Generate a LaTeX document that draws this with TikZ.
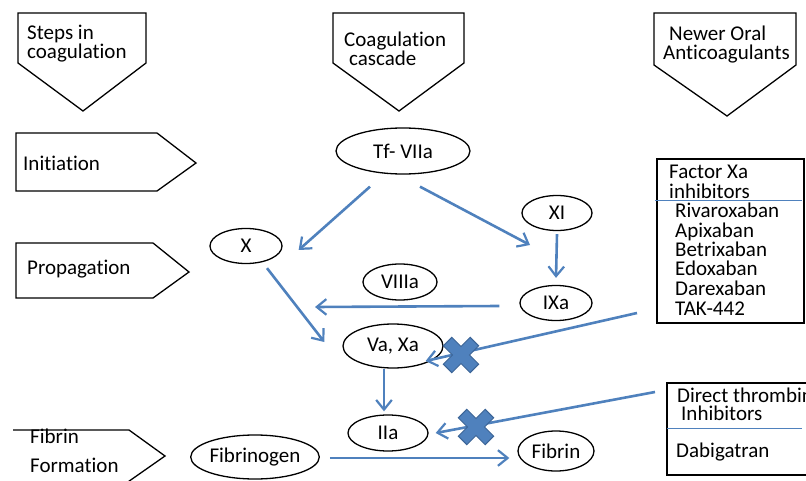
\documentclass[tikz,border=0pt]{standalone}
\usepackage{fontspec}
\setmainfont{Carlito}[Ligatures=NoCommon]
\usetikzlibrary{arrows.meta, positioning, shapes.geometric, calc}
\definecolor{flowblue}{HTML}{4F81BD}
\definecolor{markedge}{HTML}{3A6396}
\tikzset{
  factor/.style={ellipse, draw=black, line width=1.3pt, fill=white,
                 inner sep=0pt, font=\fontsize{21}{19.5}\selectfont},
  stage/.style={draw=black, line width=1.3pt, fill=white, line join=miter},
  lbl/.style={font=\fontsize{21}{19.5}\selectfont, inner sep=0pt, anchor=base west},
  flow/.style={-{Straight Barb[length=3.4mm, width=5.5mm, line width=2.2pt]},
               line width=2.6pt, flowblue},
  rule/.style={line width=1pt, flowblue},
  block/.style={line width=1pt, draw=markedge, fill=flowblue},
}

\begin{document}
\begin{tikzpicture}[x=1pt, y=-1pt]
  \useasboundingbox (0,0) rectangle (806,481);
  \clip (0,0) rectangle (806,481);
  % column heads
  \draw[stage] (18,13) -- (146,13) -- (146,63) -- (83,111) -- (18,63) -- cycle;
  \draw[stage] (333,13) -- (464,13) -- (464,63) -- (399,111) -- (333,63) -- cycle;
  \draw[stage] (654,13) -- (796,13) -- (796,65) -- (727,116) -- (654,65) -- cycle;
  \node[lbl] (steps1) at (27,40) {Steps in};
  \node[lbl] (steps2) at (27,59) {coagulation};
  \node[lbl] (casc1) at (344,47) {Coagulation};
  \node[lbl] (casc2) at (349,66) {cascade};
  \node[lbl] (noac1) at (669,41) {Newer Oral};
  \node[lbl] (noac2) at (663,60) {Anticoagulants};
  % steps
  \draw[stage] (16,133) -- (157,133) -- (196,163) -- (157,191) -- (16,191) -- cycle;
  \draw[stage] (16,243) -- (153,243) -- (189,272) -- (153,298) -- (16,298) -- cycle;
  \draw[stage] (13,430) -- (129,430) -- (165,456) -- (125,484);
  \node[lbl] (init) at (23,171) {Initiation};
  \node[lbl] (prop) at (27,275) {Propagation};
  \node[lbl] (fib1) at (30,443) {Fibrin};
  \node[lbl] (fib2) at (30,472) {Formation};
  % cascade
  \node[factor, minimum width=134pt, minimum height=46pt] (tf) at (403,151) {Tf- VIIa};
  \node[factor, minimum width=72pt, minimum height=35pt] (x) at (246,246) {X};
  \node[factor, minimum width=70pt, minimum height=35pt] (xi) at (557,213) {XI};
  \node[factor, minimum width=74pt, minimum height=36pt] (viiia) at (400,282) {VIIIa};
  \node[factor, minimum width=72pt, minimum height=35pt] (ixa) at (556,303) {IXa};
  \node[factor, minimum width=100pt, minimum height=44pt] (vaxa) at (393,346) {Va, Xa};
  \node[factor, minimum width=80pt, minimum height=36pt] (iia) at (388,433) {IIa};
  \node[factor, minimum width=120pt, minimum height=44pt] (fbg) at (255,457) {Fibrinogen};
  \node[factor, minimum width=76pt, minimum height=40pt] (fbn) at (556,451) {Fibrin};
  \coordinate (xiend) at (530,245);
  \coordinate (ixaend) at (315,307);
  \draw[flow] ($(tf.south)+(-33,12)$) -- ($(x.east)+(16,4)$);
  \draw[flow] ($(tf.south)+(17,12)$) -- (xiend);
  \draw[flow] (xi.south) ++(0,3) -- ($(ixa.north)+(0,-7)$);
  \draw[flow] ($(ixa.west)+(-20,3)$) -- (ixaend);
  \draw[flow] ($(x.south)+(21,4)$) -- ($(vaxa.west)+(-18,-4)$);
  \draw[flow] ($(vaxa.south)+(-9,0)$) -- ($(iia.north)+(-4,-3)$);
  \draw[flow] ($(fbg.east)+(10,1)$) -- ($(fbn.west)+(-8,7)$);
  % inhibitor boxes
  \draw[line width=1.3pt] (657,159) rectangle (804,323);
  \node[lbl] (fxa1) at (669,179) {Factor Xa};
  \node[lbl] (fxa2) at (669,199) {inhibitors};
  \draw[rule] (655,201) -- (802,201);
  \foreach \drug [count=\i] in {Rivaroxaban,Apixaban,Betrixaban,Edoxaban,Darexaban,TAK-442}
    \node[lbl] (drug\i) at (675,198+19.5*\i) {\drug};
  \draw[line width=1.3pt] (667,383) rectangle (830,475);
  \node[lbl] (dti1) at (677,402) {Direct thrombin};
  \node[lbl] (dti2) at (681,420) {Inhibitors};
  \draw[rule] (667,428) -- (802,428);
  \node[lbl] (dabi) at (676,457) {Dabigatran};
  \coordinate (fxaout) at (637,313);
  \coordinate (dtiout) at (655,392);
  \draw[flow] (fxaout) -- ($(vaxa.east)+(-18,15)$);
  \draw[flow] (dtiout) -- ($(iia.east)+(7,0)$);
  % blocking crosses
  \foreach \cx/\cy in {461/355, 476/427}
    \draw[block, shift={(\cx,\cy)}, rotate=45]
      (6,19) -- (6,6) -- (19,6) -- (19,-6) -- (6,-6) -- (6,-19) -- (-6,-19)
      -- (-6,-6) -- (-19,-6) -- (-19,6) -- (-6,6) -- (-6,19) -- cycle;
\end{tikzpicture}
\end{document}
